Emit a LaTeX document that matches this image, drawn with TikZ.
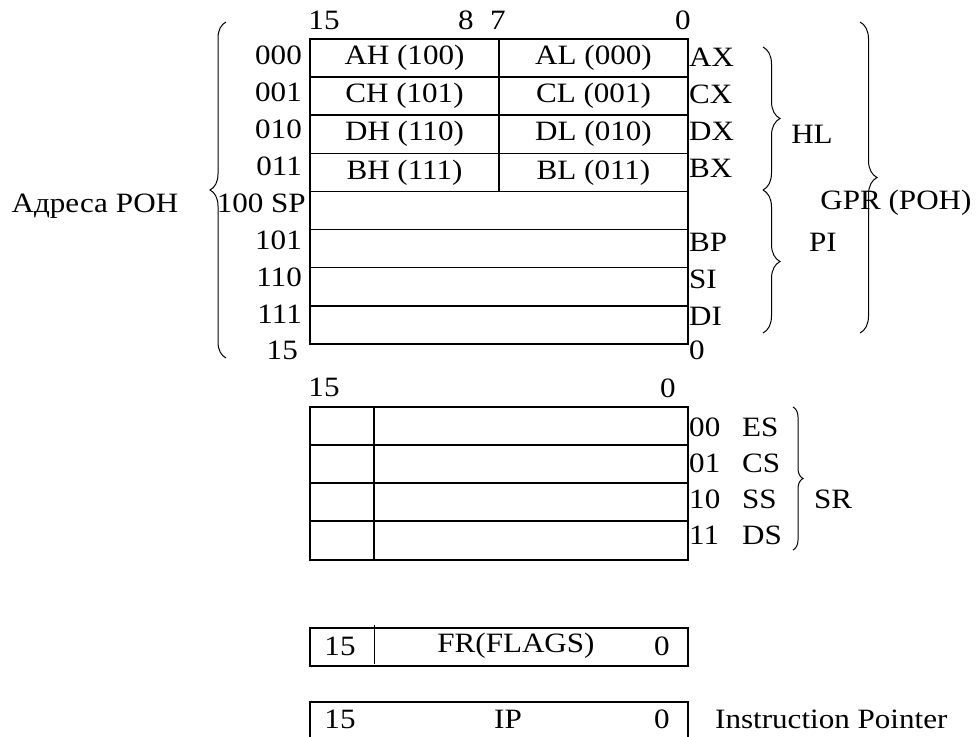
\documentclass[tikz,border=0pt]{standalone}
\usepackage{fontspec}
\setmainfont{Liberation Serif}[FakeStretch=1.11]
\usetikzlibrary{decorations.pathreplacing}

\begin{document}
\begin{tikzpicture}[x=1pt,y=-1pt,
    cell/.style={line width=1.6pt},
    lbl/.style={inner sep=0pt, font=\fontsize{28}{33}\selectfont},
    brc/.style={decorate, decoration={brace, amplitude=#1}, line width=1pt}]
    \useasboundingbox (0,0) rectangle (979,736);

    % General purpose registers
    \draw[cell] (310,39) rectangle (688,343.8);
    \foreach \i in {1,...,7}
        \draw[cell] (310,{39+38.1*\i}) -- (688,{39+38.1*\i});
    \draw[cell] (499,39) -- (499,191.4);

    % Bit numbers
    \node[lbl] (bitA) at (324,20) {15};
    \node[lbl] (bitB) at (466,20) {8};
    \node[lbl] (bitC) at (498,20) {7};
    \node[lbl] (bitD) at (683,20) {0};

    % Byte registers
    \foreach \adr/\hi/\lo/\rx [count=\i] in {000/AH (100)/AL (000)/AX, 001/CH (101)/CL (001)/CX,
                                             010/DH (110)/DL (010)/DX, 011/BH (111)/BL (011)/BX} {
        \node[lbl] (hi\i) at (404.5,{39+38.1*(\i-0.5)}) {\hi};
        \node[lbl] (lo\i) at (593.5,{39+38.1*(\i-0.5)}) {\lo};
        \node[lbl, anchor=east] (adr\i) at (302,{55+37*(\i-1)}) {\adr};
        \node[lbl, anchor=west] (reg\i) at (689,{57+37*(\i-1)}) {\rx};
    }
    \node[lbl, anchor=east] (adr5) at (306,203) {100 SP};
    \foreach \adr/\rx [count=\i from 6] in {101/BP, 110/SI, 111/DI} {
        \node[lbl, anchor=east] (adr\i) at (302,{55+37*(\i-1)}) {\adr};
        \node[lbl, anchor=west] (reg\i) at (689,{57+37*(\i-1)}) {\rx};
    }
    \node[lbl, anchor=east] (bitE) at (298,350) {15};
    \node[lbl, anchor=west] (bitF) at (689,350) {0};

    % Braces
    \draw[brc=16] (226,358) -- (226,22);
    \node[lbl] (addr) at (95,206) {Адреса РОН};
    \draw[brc=17] (763,47) -- (763,190);
    \node[lbl] (hl) at (812,134) {HL};
    \draw[brc=17] (763,190) -- (763,333);
    \node[lbl] (pi) at (823,242) {PI};
    \draw[brc=17] (860,22) -- (860,333);
    \node[lbl] (gpr) at (896,203) {GPR (POH)};

    % Segment registers
    \node[lbl] (bitG) at (324,387) {15};
    \node[lbl] (bitH) at (668,388) {0};
    \draw[cell] (310,407) rectangle (688,560);
    \foreach \y in {445,483,521}
        \draw[cell] (310,\y) -- (688,\y);
    \draw[cell] (374,407) -- (374,560);
    \foreach \nr/\sg [count=\i] in {00/ES, 01/CS, 10/SS, 11/DS} {
        \node[lbl, anchor=west] (nr\i) at (689,{427+36*(\i-1)}) {\nr};
        \node[lbl, anchor=west] (sg\i) at (742,{427+36*(\i-1)}) {\sg};
    }
    \draw[brc=10] (793,407) -- (793,550);
    \node[lbl] (sr) at (833,499) {SR};

    % Flags
    \draw[cell] (310,628) rectangle (688,666);
    \draw[line width=1pt] (374,625) -- (374,664);
    \node[lbl] (frA) at (340,646) {15};
    \node[lbl] (fr) at (516,646) {FR(FLAGS)};
    \node[lbl] (frB) at (662,646) {0};

    % Instruction pointer
    \draw[cell] (310,702) rectangle (688,745);
    \node[lbl] (ipA) at (340,719) {15};
    \node[lbl] (ip) at (508,719) {IP};
    \node[lbl] (ipB) at (662,719) {0};
    \node[lbl, anchor=west] (ipname) at (715,719) {Instruction Pointer};
\end{tikzpicture}
\end{document}
